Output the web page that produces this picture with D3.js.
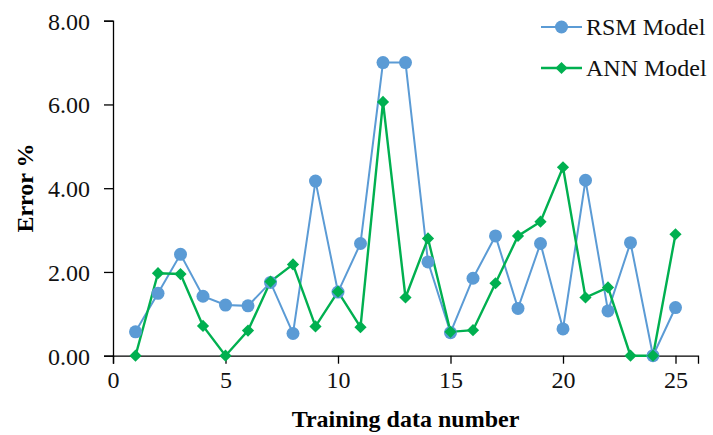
<!DOCTYPE html>
<html><head><meta charset="utf-8">
<script src="https://cdn.jsdelivr.net/npm/d3@7"></script>
<style>body{margin:0;background:#fff}svg{display:block}</style>
</head><body>
<script>
const sampleNumbers = d3.range(1, 26);
const rsmError = [0.57,1.49,2.42,1.42,1.21,1.19,1.75,0.53,4.17,1.52,2.68,7.00,7.00,2.24,0.55,1.85,2.86,1.13,2.68,0.64,4.19,1.07,2.70,0.00,1.15];
const annError = [0.00,1.97,1.95,0.71,0.00,0.60,1.77,2.18,0.70,1.53,0.68,6.06,1.39,2.80,0.57,0.61,1.73,2.86,3.20,4.50,1.39,1.63,0.00,0.00,2.90];
const xTicks = [0,5,10,15,20,25];
const yTicks = [0,2,4,6,8];
const seriesNames = ["RSM Model","ANN Model"];
const seriesColors = ["#5B9BD5","#00B050"];
const FONT = "Liberation Serif";

const W = 713, H = 435;
const svg = d3.select("body").append("svg").attr("width", W).attr("height", H);
const x = d3.scaleLinear().domain([0,26]).range([113,698]);
const y = d3.scaleLinear().domain([0,8]).range([355.7,20.7]);

const xAxis = svg.append("g").attr("transform",`translate(0,${y(0)})`)
  .call(d3.axisBottom(x).tickValues(xTicks).tickSizeOuter(0).tickSize(8).tickPadding(7));
const yAxis = svg.append("g").attr("transform",`translate(${x(0)},0)`)
  .call(d3.axisLeft(y).tickValues(yTicks).tickSizeOuter(0).tickSize(9).tickPadding(14).tickFormat(d3.format(".2f")));
[xAxis,yAxis].forEach(a=>{
  a.attr("font-family",FONT).attr("font-size",24);
  a.selectAll("path,line").attr("stroke","#000").attr("stroke-width",1.3);
  a.selectAll("text").attr("font-family",FONT).attr("font-size",24).attr("fill","#111");
});
yAxis.selectAll("text").attr("dy","0.35em");

const data = [rsmError, annError];
const line = d3.line().x((d,i)=>x(sampleNumbers[i])).y(d=>y(d));
data.forEach((vals,k)=>{
  svg.append("path").datum(vals).attr("d",line).attr("fill","none")
    .attr("stroke",seriesColors[k]).attr("stroke-width",k===0?2:2.4);
});
svg.append("g").selectAll("circle").data(rsmError).join("circle")
  .attr("cx",(d,i)=>x(sampleNumbers[i])).attr("cy",d=>y(d)).attr("r",6.5).attr("fill",seriesColors[0]);
const diamond = d3.symbol().type(d3.symbolDiamond2).size(95);
svg.append("g").selectAll("path").data(annError).join("path")
  .attr("transform",(d,i)=>`translate(${x(sampleNumbers[i])},${y(d)})`).attr("d",diamond).attr("fill",seriesColors[1]);

svg.append("text").attr("x",(x(0)+x(26))/2).attr("y",427).attr("text-anchor","middle")
  .attr("font-family",FONT).attr("font-size",24).attr("font-weight","bold").attr("fill","#000").text("Training data number");
svg.append("text").attr("transform","translate(33,188) rotate(-90)").attr("text-anchor","middle")
  .attr("font-family",FONT).attr("font-size",24).attr("font-weight","bold").attr("fill","#000").text("Error %");

const legY = [27,68];
seriesNames.forEach((n,k)=>{
  const g = svg.append("g").attr("transform",`translate(0,${legY[k]})`);
  g.append("line").attr("x1",541).attr("x2",582).attr("stroke",seriesColors[k]).attr("stroke-width",k===0?2:2.4);
  if(k===0) g.append("circle").attr("cx",561.5).attr("r",6.5).attr("fill",seriesColors[0]);
  else g.append("path").attr("transform","translate(561.5,0)").attr("d",diamond).attr("fill",seriesColors[1]);
  g.append("text").attr("x",586).attr("dy","0.35em").attr("font-family",FONT).attr("font-size",24).attr("fill","#111").text(n);
});
</script>
</body></html>
